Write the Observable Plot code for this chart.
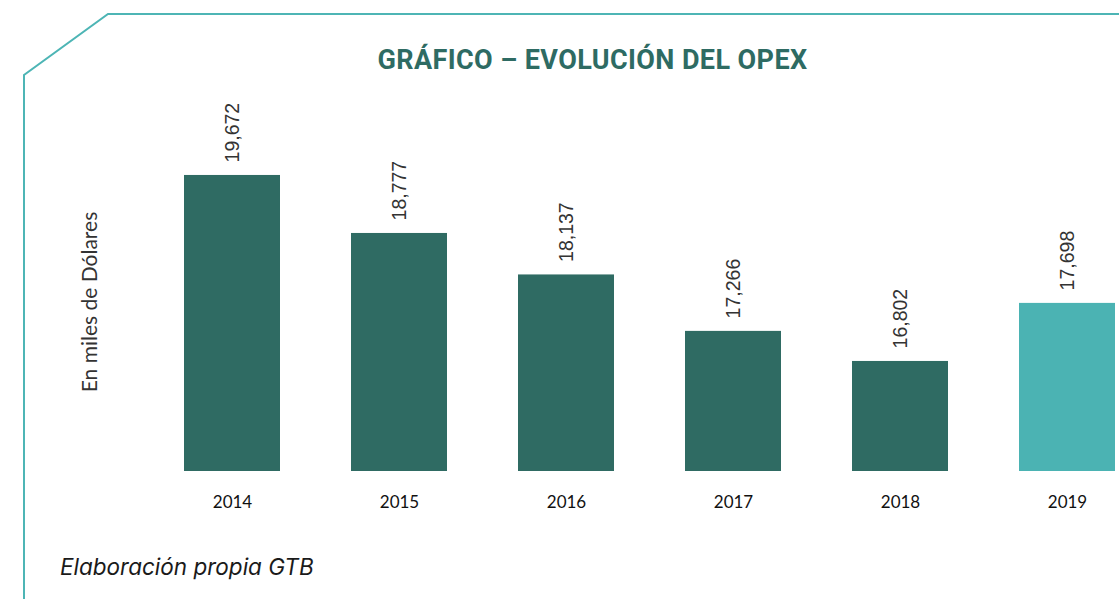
<!DOCTYPE html>
<html>
<head>
<meta charset="utf-8">
<script src="https://cdn.jsdelivr.net/npm/d3@7"></script>
<script src="https://cdn.jsdelivr.net/npm/@observablehq/plot@0.6"></script>
<style>
  html, body { margin: 0; padding: 0; background: #fff; }
  #wrap { position: relative; width: 1119px; height: 599px; overflow: hidden; }
  #deco { position: absolute; left: 0; top: 0; pointer-events: none; }
  #title { position: absolute; left: 0; top: 0; width: 1185px; height: 90px; text-align: center;
    font-family: Roboto, sans-serif; font-weight: 700; font-size: 27px; color: #2e6b63;
    line-height: 120px; letter-spacing: 0.4px; }
  #chart { position: absolute; left: 0; top: 90px; }
  #ylabel { position: absolute; left: 88px; top: 302px; white-space: nowrap;
    transform: translate(-50%, -50%) rotate(-90deg);
    font-family: Lato, sans-serif; font-size: 21px; color: #333; }
  #caption { position: absolute; left: 60px; top: 553px; font-family: Inter, "Noto Sans", sans-serif;
    font-style: italic; font-size: 22.5px; color: #1a1a1a; }
</style>
</head>
<body>
<div id="wrap">
  <svg id="deco" width="1119" height="599">
    <polyline points="24,599 24,75 108,14 1119,14" fill="none" stroke="#4db5b5" stroke-width="2"/>
  </svg>
  <div id="title">GRÁFICO – EVOLUCIÓN DEL OPEX</div>
  <div id="chart"></div>
  <div id="ylabel"></div>
  <div id="caption">Elaboración propia GTB</div>
</div>
<script>
const years = ["2014", "2015", "2016", "2017", "2018", "2019"];
const opex = [19672, 18777, 18137, 17266, 16802, 17698];
const groups = ["hist", "hist", "hist", "hist", "hist", "current"];
const yLabel = "En miles de Dólares";

const data = years.map((y, i) => ({year: y, value: opex[i], group: groups[i]}));

const chart = Plot.plot({
  width: 1119,
  height: 450,
  marginLeft: 183,
  marginRight: 3,
  marginTop: 0,
  marginBottom: 69,
  x: {domain: years, paddingInner: 0.426, paddingOuter: 0, label: null},
  y: {domain: [15104, 20500], range: [381, 31.3], axis: null},
  color: {domain: ["hist", "current"], range: ["#2f6b63", "#4bb3b3"]},
  style: {background: "transparent"},
  marks: [
    Plot.barY(data, {x: "year", y1: 15104, y2: "value", fill: "group"}),
    Plot.text(data, {
      x: "year", y: "value", text: d => d3.format(",")(d.value),
      rotate: -90, textAnchor: "start", dy: -13,
      fontSize: 19.5, fill: "#333", fontFamily: "Liberation Sans, Arial, sans-serif"
    }),
    Plot.axisX({tickSize: 0, tickPadding: 24, fontSize: 17, fontFamily: "Lato, sans-serif", color: "#111", label: null})
  ]
});
document.getElementById("chart").appendChild(chart);
document.getElementById("ylabel").textContent = yLabel;
</script>
</body>
</html>
